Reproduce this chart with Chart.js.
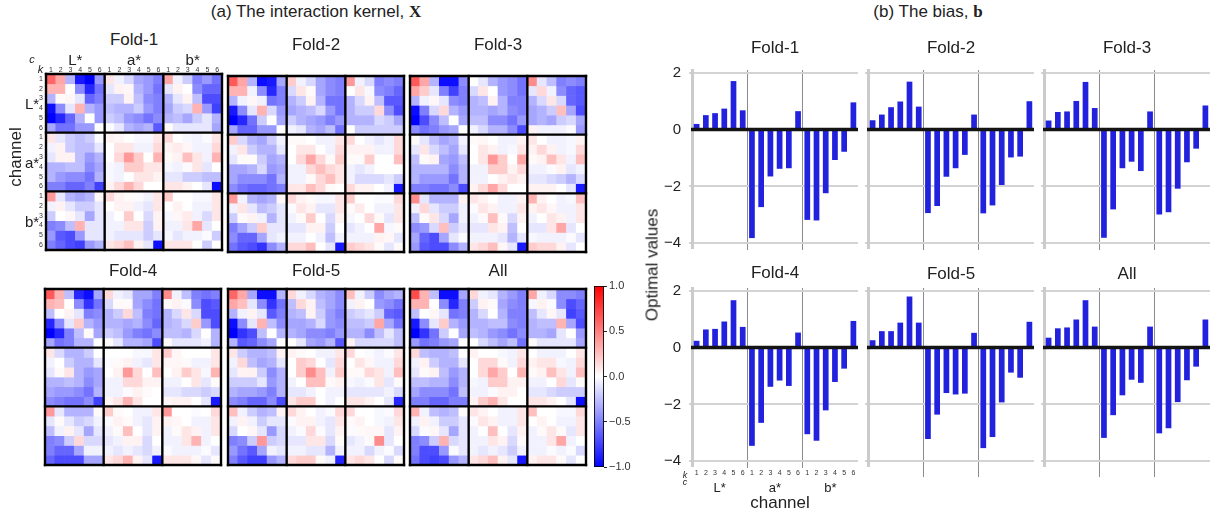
<!DOCTYPE html>
<html lang="en">
<head>
<meta charset="UTF-8">
<title>Interaction kernel and bias per fold</title>
<script src="https://cdn.jsdelivr.net/npm/chart.js@4.4.0/dist/chart.umd.min.js"></script>
<style>
    body { margin: 0; width: 1211px; height: 512px; position: relative; overflow: hidden; background: #fff;
           font-family: "Liberation Sans", Arial, sans-serif; color: #222; }
    canvas { position: absolute; display: block; }
    .t { position: absolute; white-space: nowrap; transform: translate(-50%, -50%); line-height: 1; }
    .bx { font-family: "Liberation Serif", serif; font-weight: bold; }
</style>
</head>
<body>

<div class="t" style="left:316px;top:11px;font-size:17px">(a) The interaction kernel, <span class="bx">X</span></div>
<div class="t" style="left:928px;top:11px;font-size:17px">(b) The bias, <span class="bx">b</span></div>

<script>
    // ---------- data ----------
    const channels = ['L*', 'a*', 'b*'];
    const kLabels = ['1', '2', '3', '4', '5', '6'];
    const foldNames = ['Fold-1', 'Fold-2', 'Fold-3', 'Fold-4', 'Fold-5', 'All'];

    // interaction kernel, rows/cols = L*1..6, a*1..6, b*1..6
    const kernelFold1 = [
        [0.6, 0.35, -0.3, -0.9, -1.0, -0.4, 0.1, -0.05, -0.15, -0.35, -0.4, -0.5, 0.35, -0.05, -0.2, -0.5, -0.4, -0.55],
        [0.3, 0.3, 0.0, -0.45, -0.85, -0.55, -0.1, 0.05, 0.03, -0.3, -0.4, -0.55, -0.1, 0.05, 0.0, -0.45, -0.6, -0.6],
        [-0.3, 0.02, 0.03, -0.1, -0.6, -0.5, -0.2, -0.2, 0.05, -0.25, -0.45, -0.5, -0.3, -0.1, 0.05, -0.25, -0.7, -0.7],
        [-0.95, -0.45, -0.1, 0.3, -0.3, -0.4, -0.25, -0.3, -0.3, -0.2, -0.4, -0.5, -0.35, -0.2, -0.15, 0.3, -0.4, -0.75],
        [-1.0, -0.85, -0.6, -0.3, 0.0, -0.4, -0.2, -0.25, -0.4, -0.45, -0.55, -0.45, -0.3, -0.25, -0.35, -0.2, -0.1, -0.3],
        [-0.35, -0.55, -0.55, -0.4, -0.4, 0.0, -0.02, -0.1, -0.3, -0.35, -0.3, -0.65, 0.02, -0.1, -0.1, -0.1, -0.1, -0.35],
        [0.1, -0.1, -0.2, -0.25, -0.2, -0.02, 0.05, 0.03, 0.0, -0.03, -0.03, 0.1, 0.15, 0.0, -0.03, -0.05, -0.02, 0.1],
        [-0.05, 0.05, -0.2, -0.25, -0.25, -0.1, 0.0, 0.1, 0.1, -0.05, -0.05, 0.15, 0.05, 0.08, 0.03, -0.05, -0.05, 0.15],
        [-0.1, 0.05, 0.05, -0.25, -0.4, -0.3, 0.0, 0.15, 0.4, 0.2, 0.0, 0.3, 0.02, 0.05, 0.25, 0.1, -0.05, 0.3],
        [-0.3, -0.3, -0.25, -0.25, -0.45, -0.35, -0.03, -0.05, 0.2, 0.2, 0.1, 0.1, -0.03, -0.05, -0.02, 0.1, -0.1, 0.0],
        [-0.3, -0.4, -0.45, -0.45, -0.55, -0.3, -0.03, -0.05, 0.0, 0.1, 0.1, 0.05, -0.1, -0.1, -0.2, -0.2, -0.25, -0.25],
        [-0.5, -0.5, -0.6, -0.6, -0.5, -0.75, 0.05, 0.15, 0.3, 0.15, 0.0, 0.0, 0.1, 0.1, 0.05, 0.0, -0.1, -0.95],
        [0.4, -0.1, -0.3, -0.35, -0.3, 0.03, 0.15, 0.05, 0.02, -0.02, -0.05, 0.1, 0.2, 0.0, 0.0, -0.03, -0.03, 0.1],
        [-0.05, 0.05, -0.1, -0.2, -0.2, -0.1, 0.0, 0.05, 0.05, -0.05, -0.1, 0.1, 0.0, 0.05, 0.0, -0.05, -0.05, 0.1],
        [-0.2, 0.0, 0.03, -0.1, -0.35, -0.1, -0.05, 0.0, 0.2, 0.0, -0.15, 0.05, -0.03, 0.03, 0.08, -0.05, -0.15, 0.1],
        [-0.5, -0.45, -0.25, 0.3, -0.1, -0.1, -0.05, -0.05, 0.1, 0.1, -0.2, 0.05, -0.05, -0.05, 0.1, 0.35, -0.1, 0.0],
        [-0.4, -0.65, -0.7, -0.4, -0.1, -0.1, -0.05, -0.1, -0.1, -0.1, -0.2, -0.1, -0.03, -0.1, -0.05, -0.05, -0.02, -0.2],
        [-0.5, -0.6, -0.7, -0.75, -0.4, -0.3, 0.1, 0.15, 0.25, 0.05, -0.1, -0.95, 0.1, 0.1, 0.1, 0.0, -0.2, 0.0]
    ];
    const kernelFold2 = [
        [0.65, 0.35, -0.3, -0.95, -0.9, -0.35, 0.2, -0.05, -0.15, -0.35, -0.45, -0.5, 0.4, -0.05, -0.15, -0.5, -0.45, -0.5],
        [0.3, 0.3, -0.05, -0.45, -0.85, -0.5, -0.15, 0.1, 0.02, -0.35, -0.45, -0.5, 0.0, 0.1, -0.03, -0.45, -0.5, -0.6],
        [-0.3, -0.05, 0.03, -0.05, -0.55, -0.5, -0.3, -0.2, 0.05, -0.3, -0.55, -0.55, -0.3, -0.15, 0.05, -0.25, -0.65, -0.65],
        [-0.9, -0.45, -0.1, 0.3, -0.15, -0.4, -0.35, -0.3, -0.25, -0.15, -0.4, -0.55, -0.3, -0.2, -0.2, 0.15, -0.45, -0.7],
        [-1.0, -0.85, -0.55, -0.2, 0.0, -0.35, -0.2, -0.3, -0.35, -0.4, -0.5, -0.4, -0.3, -0.3, -0.3, -0.15, -0.2, -0.35],
        [-0.35, -0.6, -0.6, -0.4, -0.4, 0.0, -0.05, -0.1, -0.3, -0.35, -0.25, -0.55, 0.0, -0.2, -0.2, -0.2, -0.2, -0.2],
        [0.2, -0.15, -0.3, -0.35, -0.2, -0.05, 0.02, 0.02, 0.0, -0.05, -0.05, 0.1, 0.15, 0.0, -0.05, -0.1, -0.05, 0.15],
        [-0.05, 0.1, -0.2, -0.3, -0.3, -0.1, 0.0, 0.1, 0.1, 0.0, -0.05, 0.15, 0.05, 0.05, 0.05, -0.05, -0.05, 0.15],
        [-0.1, 0.02, 0.02, -0.2, -0.35, -0.3, 0.0, 0.15, 0.35, 0.15, 0.02, 0.2, 0.02, 0.02, 0.2, 0.0, 0.0, 0.25],
        [-0.35, -0.35, -0.3, -0.15, -0.4, -0.35, -0.05, -0.05, 0.15, 0.25, 0.15, 0.1, -0.05, -0.1, -0.05, 0.0, 0.0, 0.0],
        [-0.35, -0.45, -0.45, -0.45, -0.55, -0.3, -0.05, -0.05, 0.02, 0.15, 0.25, 0.1, -0.05, -0.15, -0.15, -0.15, -0.1, -0.2],
        [-0.45, -0.55, -0.6, -0.6, -0.55, -0.5, 0.1, 0.1, 0.25, 0.15, 0.02, 0.0, 0.15, 0.05, 0.05, 0.0, -0.05, -0.9],
        [0.4, -0.05, -0.3, -0.35, -0.3, 0.03, 0.15, 0.05, 0.02, -0.03, -0.03, 0.1, 0.2, 0.0, 0.0, -0.02, -0.02, 0.15],
        [-0.05, 0.1, -0.1, -0.25, -0.2, -0.1, -0.02, 0.1, 0.05, -0.1, -0.1, 0.1, 0.02, 0.08, 0.0, -0.05, -0.05, 0.1],
        [-0.2, 0.02, 0.05, -0.05, -0.3, -0.1, -0.05, 0.02, 0.2, 0.0, -0.15, 0.05, -0.03, 0.0, 0.15, 0.02, -0.1, 0.1],
        [-0.5, -0.35, -0.2, 0.2, -0.1, -0.1, -0.1, -0.1, 0.05, 0.05, -0.2, 0.0, -0.1, -0.05, 0.0, 0.35, -0.03, 0.02],
        [-0.45, -0.6, -0.6, -0.35, -0.1, -0.05, -0.05, -0.05, 0.0, -0.05, -0.25, -0.05, -0.05, -0.05, -0.05, 0.05, 0.03, -0.1],
        [-0.55, -0.65, -0.7, -0.8, -0.45, -0.3, 0.15, 0.15, 0.25, 0.0, -0.1, -0.9, 0.2, 0.15, 0.1, 0.02, -0.1, 0.02]
    ];
    const kernelFold3 = [
        [0.65, 0.35, -0.3, -0.95, -0.95, -0.45, 0.0, -0.1, -0.3, -0.4, -0.45, -0.55, 0.45, -0.1, -0.25, -0.5, -0.45, -0.5],
        [0.35, 0.2, -0.1, -0.5, -0.75, -0.5, -0.15, 0.1, 0.0, -0.4, -0.45, -0.55, -0.1, 0.15, -0.05, -0.45, -0.6, -0.65],
        [-0.3, -0.05, 0.03, -0.1, -0.45, -0.5, -0.3, -0.25, 0.05, -0.3, -0.5, -0.5, -0.3, -0.15, 0.1, -0.15, -0.6, -0.65],
        [-0.95, -0.5, -0.15, 0.15, -0.3, -0.4, -0.3, -0.3, -0.35, -0.3, -0.45, -0.5, -0.35, -0.3, -0.2, 0.25, -0.35, -0.7],
        [-1.0, -0.7, -0.45, -0.25, 0.0, -0.35, -0.25, -0.25, -0.45, -0.45, -0.55, -0.4, -0.35, -0.3, -0.35, -0.2, -0.15, -0.35],
        [-0.45, -0.55, -0.5, -0.4, -0.35, 0.0, -0.05, -0.15, -0.3, -0.3, -0.45, -0.7, 0.05, -0.05, -0.05, -0.05, -0.02, -0.4],
        [0.02, -0.1, -0.25, -0.35, -0.3, -0.05, 0.02, 0.03, 0.0, -0.05, -0.05, 0.05, 0.1, 0.0, -0.05, -0.05, -0.03, 0.05],
        [-0.1, 0.1, -0.15, -0.25, -0.35, -0.1, 0.0, 0.1, 0.05, -0.05, -0.03, 0.1, 0.05, 0.15, 0.05, -0.05, -0.03, 0.15],
        [-0.25, 0.02, 0.05, -0.35, -0.4, -0.25, 0.0, 0.1, 0.4, 0.2, 0.0, 0.35, 0.02, 0.05, 0.25, 0.1, -0.05, 0.25],
        [-0.3, -0.3, -0.3, -0.3, -0.45, -0.3, -0.05, -0.05, 0.2, 0.2, 0.05, 0.15, -0.05, -0.05, -0.02, 0.05, -0.1, -0.05],
        [-0.3, -0.4, -0.4, -0.4, -0.55, -0.3, -0.05, -0.05, 0.0, 0.05, 0.1, 0.05, -0.1, -0.1, -0.15, -0.2, -0.3, -0.15],
        [-0.5, -0.5, -0.55, -0.55, -0.45, -0.7, 0.05, 0.15, 0.35, 0.15, 0.0, 0.0, 0.05, 0.05, 0.05, 0.0, -0.1, -0.9],
        [0.45, -0.1, -0.3, -0.3, -0.3, 0.05, 0.1, 0.05, 0.0, -0.05, -0.05, 0.05, 0.3, 0.05, 0.0, -0.05, -0.03, 0.25],
        [-0.05, 0.15, -0.1, -0.2, -0.2, -0.05, -0.02, 0.1, 0.05, -0.05, -0.05, 0.1, 0.05, 0.1, 0.03, -0.05, -0.05, 0.1],
        [-0.25, 0.02, 0.1, -0.15, -0.35, -0.05, -0.05, 0.02, 0.25, 0.02, -0.15, 0.05, -0.05, 0.0, 0.1, 0.05, -0.05, 0.1],
        [-0.45, -0.4, -0.15, 0.25, -0.2, -0.1, -0.1, -0.1, 0.1, 0.05, -0.25, 0.0, -0.1, -0.1, 0.1, 0.35, -0.1, 0.0],
        [-0.35, -0.6, -0.7, -0.35, -0.1, -0.02, -0.05, -0.05, -0.05, -0.1, -0.3, -0.1, -0.03, -0.05, -0.05, -0.05, -0.02, -0.1],
        [-0.4, -0.65, -0.7, -0.7, -0.45, -0.3, 0.1, 0.15, 0.25, 0.03, -0.1, -0.9, 0.2, 0.15, 0.15, 0.05, -0.1, 0.0]
    ];
    const kernelFold4 = [
        [0.65, 0.3, -0.25, -0.85, -0.95, -0.35, 0.15, -0.05, -0.1, -0.35, -0.35, -0.5, 0.45, -0.05, -0.25, -0.5, -0.55, -0.5],
        [0.3, 0.25, 0.0, -0.45, -0.8, -0.55, -0.15, 0.02, 0.02, -0.35, -0.45, -0.55, 0.02, 0.05, -0.02, -0.45, -0.7, -0.65],
        [-0.25, 0.0, 0.05, -0.1, -0.5, -0.45, -0.3, -0.2, 0.15, -0.25, -0.5, -0.55, -0.3, -0.15, 0.1, -0.15, -0.7, -0.7],
        [-0.85, -0.45, -0.1, 0.2, -0.3, -0.4, -0.3, -0.3, -0.35, -0.3, -0.45, -0.6, -0.3, -0.25, -0.15, 0.2, -0.4, -0.7],
        [-1.0, -0.85, -0.5, -0.25, 0.02, -0.35, -0.2, -0.25, -0.4, -0.5, -0.55, -0.45, -0.25, -0.25, -0.3, -0.15, 0.0, -0.3],
        [-0.35, -0.55, -0.5, -0.3, -0.3, 0.0, 0.02, -0.1, -0.3, -0.3, -0.35, -0.7, 0.02, -0.1, -0.1, -0.1, -0.05, -0.3],
        [0.1, -0.15, -0.3, -0.3, -0.2, 0.0, 0.0, 0.0, 0.0, -0.03, -0.03, 0.1, 0.2, 0.03, 0.0, 0.0, 0.0, 0.1],
        [-0.05, 0.0, -0.2, -0.3, -0.3, -0.1, -0.02, 0.02, 0.05, -0.05, -0.1, 0.1, 0.03, 0.03, 0.02, -0.05, -0.05, 0.1],
        [-0.1, 0.02, 0.1, -0.3, -0.4, -0.35, 0.0, 0.05, 0.4, 0.15, 0.0, 0.25, 0.0, 0.05, 0.2, 0.1, -0.03, 0.3],
        [-0.3, -0.3, -0.25, -0.3, -0.45, -0.35, -0.05, -0.05, 0.15, 0.15, 0.05, 0.05, -0.05, -0.05, 0.0, 0.1, -0.1, 0.02],
        [-0.35, -0.4, -0.4, -0.45, -0.55, -0.3, -0.05, -0.05, -0.02, 0.05, 0.02, 0.0, -0.1, -0.1, -0.15, -0.15, -0.2, -0.15],
        [-0.45, -0.5, -0.55, -0.55, -0.45, -0.75, 0.03, 0.1, 0.3, 0.1, 0.0, 0.0, 0.03, 0.05, 0.05, 0.0, -0.1, -0.9],
        [0.4, -0.1, -0.3, -0.3, -0.3, 0.02, 0.2, 0.02, 0.0, -0.05, -0.05, 0.1, 0.4, 0.0, 0.0, -0.02, 0.0, 0.15],
        [-0.1, 0.02, -0.1, -0.2, -0.15, -0.05, -0.02, 0.05, 0.02, -0.05, -0.1, 0.05, 0.05, 0.03, 0.0, -0.05, -0.05, 0.1],
        [-0.25, -0.05, 0.05, -0.1, -0.35, -0.1, -0.05, 0.02, 0.25, 0.0, -0.1, 0.05, -0.05, 0.02, 0.1, 0.05, -0.05, 0.1],
        [-0.5, -0.45, -0.2, 0.15, -0.15, -0.15, -0.1, -0.05, 0.05, 0.05, -0.15, 0.0, -0.05, -0.05, 0.1, 0.3, -0.05, 0.0],
        [-0.5, -0.6, -0.6, -0.35, -0.05, -0.05, -0.05, -0.1, -0.05, -0.1, -0.15, -0.05, -0.02, -0.05, -0.05, -0.05, -0.02, -0.1],
        [-0.6, -0.7, -0.7, -0.7, -0.35, -0.35, 0.1, 0.15, 0.3, 0.05, -0.1, -0.9, 0.1, 0.1, 0.1, 0.03, -0.1, 0.02]
    ];
    const kernelFold5 = [
        [0.6, 0.35, -0.35, -0.95, -0.95, -0.3, 0.15, -0.05, -0.15, -0.3, -0.35, -0.45, 0.25, -0.05, -0.2, -0.45, -0.35, -0.3],
        [0.35, 0.25, -0.1, -0.45, -0.8, -0.55, -0.25, 0.15, 0.05, -0.25, -0.35, -0.45, -0.05, 0.05, 0.0, -0.4, -0.45, -0.55],
        [-0.3, -0.05, 0.05, -0.1, -0.65, -0.5, -0.3, -0.25, 0.05, -0.2, -0.4, -0.5, -0.2, -0.15, -0.1, -0.2, -0.6, -0.65],
        [-0.95, -0.45, -0.1, 0.3, -0.25, -0.45, -0.35, -0.35, -0.3, -0.15, -0.4, -0.45, -0.25, -0.25, -0.2, 0.35, -0.35, -0.55],
        [-1.0, -0.8, -0.7, -0.25, 0.0, -0.3, -0.3, -0.35, -0.45, -0.45, -0.5, -0.4, -0.3, -0.3, -0.45, -0.25, -0.1, -0.25],
        [-0.3, -0.65, -0.6, -0.45, -0.35, 0.0, 0.0, -0.1, -0.35, -0.4, -0.3, -0.65, 0.05, -0.15, -0.15, -0.15, -0.15, -0.25],
        [0.1, -0.2, -0.3, -0.3, -0.25, 0.05, 0.05, 0.02, 0.0, -0.05, -0.05, 0.1, 0.15, 0.0, -0.02, -0.05, -0.02, 0.1],
        [-0.05, 0.15, -0.25, -0.35, -0.3, -0.1, 0.0, 0.2, 0.15, 0.0, -0.1, 0.15, 0.0, 0.1, 0.03, -0.05, -0.05, 0.15],
        [-0.1, 0.05, 0.05, -0.2, -0.45, -0.3, 0.0, 0.2, 0.45, 0.25, -0.05, 0.2, 0.02, 0.02, 0.15, 0.1, -0.05, 0.25],
        [-0.2, -0.2, -0.2, -0.1, -0.4, -0.3, -0.05, 0.0, 0.25, 0.25, 0.02, 0.05, -0.03, -0.05, -0.02, 0.1, -0.1, 0.02],
        [-0.3, -0.35, -0.35, -0.4, -0.5, -0.3, -0.1, -0.1, -0.05, 0.0, -0.05, -0.05, -0.1, -0.1, -0.1, -0.1, -0.05, -0.15],
        [-0.45, -0.5, -0.6, -0.6, -0.45, -0.7, 0.1, 0.2, 0.2, 0.0, -0.05, 0.0, 0.1, 0.1, 0.05, 0.0, -0.1, -0.85],
        [0.25, -0.05, -0.2, -0.3, -0.25, 0.05, 0.15, 0.05, 0.0, -0.05, -0.02, 0.15, 0.15, 0.0, 0.0, -0.03, -0.02, 0.15],
        [-0.05, 0.05, -0.05, -0.2, -0.1, -0.1, -0.02, 0.05, 0.05, -0.05, -0.1, 0.1, 0.02, 0.05, 0.0, -0.03, -0.05, 0.1],
        [-0.15, 0.0, 0.03, -0.1, -0.4, -0.15, -0.05, -0.02, 0.15, -0.02, -0.1, 0.05, -0.02, 0.02, 0.03, 0.03, -0.1, 0.05],
        [-0.5, -0.45, -0.2, 0.4, -0.2, -0.15, -0.1, -0.1, 0.1, 0.1, -0.15, 0.02, -0.1, -0.05, 0.02, 0.45, -0.1, 0.0],
        [-0.4, -0.55, -0.65, -0.35, -0.05, -0.1, -0.05, -0.05, -0.1, -0.1, -0.3, -0.05, -0.05, -0.05, -0.15, -0.05, -0.02, -0.15],
        [-0.5, -0.65, -0.75, -0.75, -0.4, -0.3, 0.15, 0.2, 0.2, 0.02, -0.05, -0.85, 0.1, 0.15, 0.1, 0.0, -0.15, 0.02]
    ];
    const kernelAll = [
        [0.7, 0.3, -0.25, -0.95, -0.95, -0.35, 0.15, -0.05, -0.1, -0.3, -0.4, -0.5, 0.35, -0.05, -0.15, -0.45, -0.45, -0.5],
        [0.3, 0.3, 0.0, -0.45, -0.85, -0.5, -0.2, 0.05, 0.02, -0.35, -0.45, -0.5, -0.03, 0.05, -0.02, -0.45, -0.7, -0.6],
        [-0.25, 0.0, 0.03, -0.1, -0.55, -0.5, -0.3, -0.15, 0.0, -0.3, -0.5, -0.5, -0.25, -0.1, 0.03, -0.1, -0.75, -0.65],
        [-0.9, -0.45, -0.1, 0.2, -0.3, -0.4, -0.3, -0.3, -0.25, -0.25, -0.45, -0.5, -0.3, -0.25, -0.25, 0.3, -0.35, -0.7],
        [-1.0, -0.8, -0.55, -0.2, 0.0, -0.35, -0.25, -0.3, -0.4, -0.45, -0.55, -0.45, -0.3, -0.3, -0.35, -0.1, 0.0, -0.4],
        [-0.4, -0.55, -0.5, -0.4, -0.35, 0.0, 0.0, -0.15, -0.25, -0.35, -0.25, -0.55, 0.02, -0.1, -0.1, -0.1, -0.1, -0.35],
        [0.15, -0.25, -0.3, -0.3, -0.25, 0.0, 0.05, 0.0, 0.0, -0.03, -0.05, 0.1, 0.0, -0.05, -0.05, -0.05, 0.0, 0.1],
        [-0.05, 0.05, -0.2, -0.3, -0.3, -0.1, 0.0, 0.15, 0.15, 0.02, -0.05, 0.15, 0.05, 0.1, 0.1, -0.03, -0.05, 0.15],
        [-0.1, 0.02, 0.05, -0.25, -0.4, -0.3, 0.0, 0.15, 0.35, 0.2, 0.0, 0.3, 0.02, 0.05, 0.25, 0.1, -0.05, 0.25],
        [-0.25, -0.25, -0.3, -0.3, -0.45, -0.3, -0.03, -0.05, 0.2, 0.2, 0.05, 0.05, -0.05, -0.05, 0.0, 0.15, -0.1, 0.02],
        [-0.35, -0.45, -0.45, -0.45, -0.55, -0.25, -0.05, -0.05, -0.02, 0.05, 0.05, 0.0, -0.1, -0.1, -0.15, -0.2, -0.2, -0.2],
        [-0.5, -0.5, -0.6, -0.6, -0.5, -0.5, 0.05, 0.2, 0.3, 0.1, 0.0, 0.0, 0.1, 0.1, 0.05, 0.0, -0.1, -0.95],
        [0.3, -0.05, -0.25, -0.3, -0.25, 0.02, 0.1, 0.05, 0.0, -0.05, -0.05, 0.1, 0.25, 0.0, 0.0, -0.03, -0.03, 0.15],
        [-0.05, 0.05, -0.05, -0.2, -0.2, -0.1, -0.02, 0.1, 0.05, -0.05, -0.05, 0.1, 0.0, 0.05, 0.0, -0.05, -0.05, 0.1],
        [-0.15, -0.02, 0.03, -0.1, -0.35, -0.1, -0.05, 0.0, 0.25, 0.0, -0.1, 0.05, -0.05, 0.02, 0.1, 0.02, -0.1, 0.1],
        [-0.5, -0.45, -0.2, 0.3, -0.15, -0.1, -0.05, -0.05, 0.1, 0.05, -0.15, 0.02, -0.05, -0.05, 0.1, 0.35, -0.05, 0.0],
        [-0.5, -0.7, -0.7, -0.4, -0.02, -0.1, -0.05, -0.1, -0.05, -0.1, -0.2, -0.05, -0.05, -0.05, -0.02, -0.05, -0.02, -0.15],
        [-0.55, -0.7, -0.75, -0.7, -0.4, -0.3, 0.1, 0.15, 0.25, 0.05, -0.1, -0.9, 0.05, 0.1, 0.1, 0.02, -0.1, 0.0]
    ];

    // bias values, order L*1..6, a*1..6, b*1..6
    const biasFold1 = [0.2, 0.51, 0.58, 0.74, 1.71, 0.68, -3.82, -2.73, -1.65, -1.38, -1.36, 0.65, -3.18, -3.2, -2.24, -1.07, -0.78, 0.96];
    const biasFold2 = [0.33, 0.53, 0.79, 0.99, 1.69, 0.81, -2.94, -2.69, -1.66, -1.36, -0.89, 0.53, -2.95, -2.67, -1.95, -0.98, -0.95, 1.0];
    const biasFold3 = [0.32, 0.62, 0.64, 1.01, 1.68, 0.76, -3.81, -2.81, -1.36, -1.13, -1.46, 0.64, -2.99, -2.91, -2.08, -1.15, -0.67, 0.85];
    const biasFold4 = [0.24, 0.64, 0.66, 0.92, 1.67, 0.73, -3.46, -2.65, -1.38, -1.16, -1.35, 0.53, -3.05, -3.28, -2.21, -1.21, -0.74, 0.94];
    const biasFold5 = [0.26, 0.58, 0.58, 0.88, 1.8, 0.88, -3.22, -2.36, -1.6, -1.65, -1.62, 0.52, -3.54, -3.15, -1.93, -0.88, -1.06, 0.91];
    const biasAll = [0.35, 0.68, 0.71, 0.99, 1.67, 0.74, -3.18, -2.38, -1.68, -1.13, -1.24, 0.74, -3.02, -2.84, -1.92, -1.15, -0.67, 0.99];

    const biasTicks = [2, 0, -2, -4];
    const cbarTicks = [1.0, 0.5, 0.0, -0.5, -1.0];

    const kernels = [kernelFold1, kernelFold2, kernelFold3, kernelFold4, kernelFold5, kernelAll];
    const biases = [biasFold1, biasFold2, biasFold3, biasFold4, biasFold5, biasAll];

    // ---------- layout ----------
    const FONT = '"Liberation Sans", Arial, sans-serif';
    const BLUE = 'rgb(34,34,222)';
    const axisLabels = channels.flatMap(() => kLabels);   // 18 category labels

    // heatmap grid corners [left, top], grid is 176 x 176
    const heatPos = [[46, 74], [228, 76], [410, 76], [45, 289], [228, 289], [410, 289]];
    const HEAT = 176;
    // bar plot area [left, top], plot is 166 x 178
    const barPos = [[692, 70], [868, 70], [1044, 70], [692, 288], [868, 288], [1044, 288]];
    const BAR_W = 166, BAR_H = 178;

    Chart.defaults.font.family = FONT;

    function makeCanvas(left, top, w, h) {
        const c = document.createElement('canvas');
        c.width = w; c.height = h;
        c.style.left = left + 'px'; c.style.top = top + 'px';
        c.style.width = w + 'px'; c.style.height = h + 'px';
        document.body.appendChild(c);
        return c;
    }

    function addText(text, x, y, size, extra) {
        const el = document.createElement('div');
        el.className = 't';
        el.textContent = text;
        el.style.left = x + 'px';
        el.style.top = y + 'px';
        el.style.fontSize = size + 'px';
        if (extra) Object.assign(el.style, extra);
        document.body.appendChild(el);
        return el;
    }

    // bwr colour map
    function cellColor(v) {
        v = Math.max(-1, Math.min(1, v));
        if (v < 0) {
            const c = Math.round(255 * (1 + v));
            return 'rgb(' + c + ',' + c + ',255)';
        }
        const c = Math.round(255 * (1 - v));
        return 'rgb(255,' + c + ',' + c + ')';
    }

    // thick black lines round every 6x6 block
    const blockFrame = {
        id: 'blockFrame',
        afterDatasetsDraw(chart) {
            const {ctx, scales: {x, y}} = chart;
            const top = y.getPixelForValue(0), bottom = y.getPixelForValue(18);
            const left = x.getPixelForValue(-0.5), right = x.getPixelForValue(17.5);
            ctx.save();
            ctx.strokeStyle = '#000';
            ctx.lineWidth = 2.4;
            [0, 6, 12, 18].forEach(b => {
                const px = x.getPixelForValue(b - 0.5);
                const py = y.getPixelForValue(b);
                ctx.beginPath(); ctx.moveTo(px, top - 1.2); ctx.lineTo(px, bottom + 1.2); ctx.stroke();
                ctx.beginPath(); ctx.moveTo(left - 1.2, py); ctx.lineTo(right + 1.2, py); ctx.stroke();
            });
            ctx.restore();
        }
    };

    // black zero line drawn on top of the bars
    const zeroLine = {
        id: 'zeroLine',
        afterDatasetsDraw(chart) {
            const {ctx, chartArea: a, scales: {y}} = chart;
            const py = y.getPixelForValue(0);
            ctx.save();
            ctx.strokeStyle = '#141414';
            ctx.lineWidth = 3.5;
            ctx.beginPath(); ctx.moveTo(a.left - 1, py); ctx.lineTo(a.right, py); ctx.stroke();
            ctx.restore();
        }
    };

    function heatmapChart(matrix, pos, showTicks) {
        const canvas = makeCanvas(pos[0] - 14, pos[1] - 14, 14 + HEAT + 2, 14 + HEAT + 8);
        const datasets = matrix.map((row, r) => ({
            data: row.map(() => [r, r + 1]),
            backgroundColor: row.map(cellColor),
            borderWidth: 0,
            grouped: false,
            barPercentage: 1,
            categoryPercentage: 1
        }));
        return new Chart(canvas, {
            type: 'bar',
            data: {labels: axisLabels, datasets: datasets},
            options: {
                responsive: false,
                animation: false,
                layout: {padding: {left: 2, top: 2, right: 2, bottom: 8}},
                plugins: {legend: {display: false}, tooltip: {enabled: false}},
                scales: {
                    x: {
                        position: 'top',
                        grid: {display: false, drawTicks: false},
                        border: {display: false},
                        ticks: {display: showTicks, font: {size: 7}, color: '#333', padding: 0, maxRotation: 0, autoSkip: false},
                        afterFit: s => { s.height = 12; }
                    },
                    y: {
                        min: 0, max: 18, reverse: true,
                        grid: {display: false, drawTicks: false},
                        border: {display: false},
                        afterBuildTicks: s => { s.ticks = axisLabels.map((_, i) => ({value: i + 0.5})); },
                        ticks: {display: showTicks, font: {size: 7}, color: '#333', padding: 3, autoSkip: false,
                                callback: (v, i) => axisLabels[i]},
                        afterFit: s => { s.width = 12; }
                    }
                }
            },
            plugins: [blockFrame]
        });
    }

    function biasChart(values, pos, showY, showX, sepExt) {
        const canvas = makeCanvas(pos[0] - 44, pos[1] - 18, 44 + BAR_W + 4, 18 + BAR_H + 16 + 2);
        return new Chart(canvas, {
            type: 'bar',
            data: {
                labels: axisLabels,
                datasets: [{data: values, backgroundColor: BLUE, barPercentage: 0.62, categoryPercentage: 1}]
            },
            options: {
                responsive: false,
                animation: false,
                layout: {padding: {left: 0, top: 18, right: 4, bottom: 2}},
                plugins: {legend: {display: false}, tooltip: {enabled: false}},
                scales: {
                    x: {
                        grid: {offset: true, lineWidth: 1, drawTicks: true, tickLength: sepExt,
                               color: c => (c.index === 6 || c.index === 12) ? '#8c8c8c' : 'rgba(0,0,0,0)'},
                        border: {display: false},
                        ticks: {display: showX, font: {size: 7}, color: '#333', padding: 1, maxRotation: 0, autoSkip: false},
                        afterFit: s => { s.height = 16; }
                    },
                    y: {
                        min: -4.17, max: 2.1,
                        afterBuildTicks: s => { s.ticks = biasTicks.map(v => ({value: v})); },
                        grid: {lineWidth: 2, tickLength: 3,
                               color: c => c.tick && c.tick.value === 0 ? 'rgba(0,0,0,0)' : '#d3d3d3'},
                        border: {color: '#cbcbcb', width: 3},
                        ticks: {display: showY, font: {size: 15}, color: '#222', padding: 8,
                                callback: v => v < 0 ? '\u2212' + (-v) : String(v)},
                        afterFit: s => { s.width = 44; }
                    }
                }
            },
            plugins: [zeroLine]
        });
    }

    function colorbarChart() {
        const left = 594, top = 286, w = 10, h = 181;
        const canvas = makeCanvas(left, top - 10, w + 40, h + 20);
        return new Chart(canvas, {
            type: 'bar',
            data: {
                labels: [''],
                datasets: [{
                    data: [[-1, 1]],
                    barPercentage: 1, categoryPercentage: 1,
                    borderColor: '#000', borderWidth: 1.2, borderSkipped: false,
                    backgroundColor: c => {
                        const y = c.chart.scales.y;
                        if (!y || !c.chart.chartArea) return '#fff';
                        const y0 = y.getPixelForValue(-1), y1 = y.getPixelForValue(1);
                        if (!isFinite(y0) || !isFinite(y1)) return '#fff';
                        const g = c.chart.ctx.createLinearGradient(0, y0, 0, y1);
                        g.addColorStop(0, 'rgb(0,0,255)');
                        g.addColorStop(0.5, 'rgb(255,255,255)');
                        g.addColorStop(1, 'rgb(255,0,0)');
                        return g;
                    }
                }]
            },
            options: {
                responsive: false,
                animation: false,
                layout: {padding: {left: 0, top: 10, right: 0, bottom: 10}},
                plugins: {legend: {display: false}, tooltip: {enabled: false}},
                scales: {
                    x: {display: false},
                    y: {
                        position: 'right', min: -1, max: 1,
                        afterBuildTicks: s => { s.ticks = cbarTicks.map(v => ({value: v})); },
                        grid: {drawOnChartArea: false, drawTicks: true, tickLength: 3, color: '#222', lineWidth: 1},
                        border: {display: false},
                        ticks: {font: {size: 11}, color: '#333', padding: 2,
                                callback: v => (v < 0 ? '\u2212' : '') + Math.abs(v).toFixed(1)},
                        afterFit: s => { s.width = 40; }
                    }
                }
            }
        });
    }

    // ---------- build ----------
    kernels.forEach((m, i) => heatmapChart(m, heatPos[i], i === 0));
    const cbar = colorbarChart();
    cbar.update();
    biases.forEach((b, i) => biasChart(b, barPos[i], i % 3 === 0, i === 3, i === 4 || i === 5 ? 11 : 2));

    // panel titles
    const heatTitleY = [38.5, 44, 44, 270, 270, 270];
    heatPos.forEach((p, i) => addText(foldNames[i], p[0] + HEAT / 2, heatTitleY[i], 17));
    const barTitleY = [47, 47, 47, 272, 273, 273];
    barPos.forEach((p, i) => addText(foldNames[i], p[0] + BAR_W / 2, barTitleY[i], 17));

    // heatmap axis annotations (Fold-1)
    const h0 = heatPos[0];
    const blk = HEAT / 3;
    addText('c', 32, 59, 11, {fontStyle: 'italic'});
    addText('k', 40.5, 69, 11, {fontStyle: 'italic'});
    channels.forEach((ch, j) => {
        addText(ch, h0[0] + blk * (j + 0.5), 59, 15);
        addText(ch, 32, h0[1] + blk * (j + 0.5), 15);
    });
    addText('channel', 15, 157, 17, {transform: 'translate(-50%,-50%) rotate(-90deg)'});

    // bias axis annotations (Fold-4)
    const b3 = barPos[3];
    const grp = BAR_W / 3;
    addText('k', 685, 475, 9, {fontStyle: 'italic'});
    addText('c', 685, 482, 9, {fontStyle: 'italic'});
    channels.forEach((ch, j) => addText(ch, b3[0] + grp * (j + 0.5), 487, 13));
    addText('channel', 780, 502, 17);
    addText('Optimal values', 652, 265, 17, {transform: 'translate(-50%,-50%) rotate(-90deg)'});
</script>

</body>
</html>
